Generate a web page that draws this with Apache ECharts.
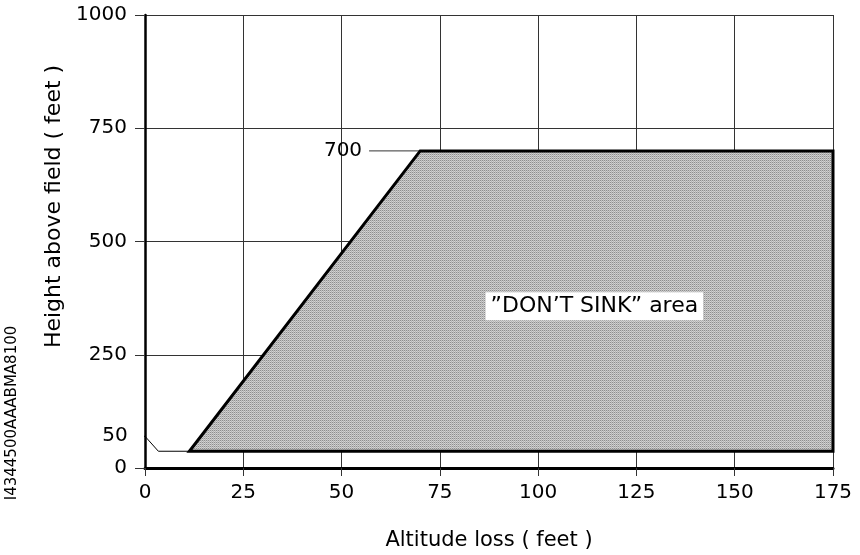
<!DOCTYPE html>
<html>
<head>
<meta charset="utf-8">
<script src="https://cdn.jsdelivr.net/npm/echarts@6/dist/echarts.min.js"></script>
<style>
  html, body { margin: 0; padding: 0; background: #fff; }
  #chart { width: 860px; height: 555px; }
</style>
</head>
<body>
<div id="chart"></div>
<script>
// ── Data ───────────────────────────────────────────────────────────────
const xTicks = [0, 25, 50, 75, 100, 125, 150, 175];
const yTicks = [0, 250, 500, 750, 1000];

// "DON'T SINK" zone outline (altitude loss, height above field)
const zoneX = [11.3, 70, 175, 175];
const zoneY = [37, 700, 700, 37];

// leader lines for the "50" and "700" call-outs
const lead50X = [-2.6, 0, 3.4, 11.3];
const lead50Y = [70, 70, 37, 37];
const lead700X = [57, 70];
const lead700Y = [700, 700];

// call-out texts
const calloutText = ['50', '700'];
const calloutX = [-2.6, 57];
const calloutY = [70, 700];

const areaText = '\u201DDON\u2019T SINK\u201D area';
const areaPos = [114.3, 357];

// ── Style ──────────────────────────────────────────────────────────────
const fontFamily = 'DejaVu Sans';
const ink = '#000';
const gridInk = '#333';

// fine grey wave hatch used for the zone fill
function makeHatch() {
  const c = document.createElement('canvas');
  c.width = 4; c.height = 2;
  const g = c.getContext('2d');
  const px = [['#8e8e8e', '#c4c4c4', '#8e8e8e', '#c4c4c4'],
              ['#d6d6d6', '#b4b4b4', '#d6d6d6', '#b4b4b4']];
  px.forEach((row, y) => row.forEach((col, x) => { g.fillStyle = col; g.fillRect(x, y, 1, 1); }));
  return c;
}
const hatch = { image: makeHatch(), repeat: 'repeat' };

const chart = echarts.init(document.getElementById('chart'));
chart.setOption({
  animation: false,
  grid: { left: 145, right: 27, top: 15, bottom: 87, containLabel: false, outerBoundsMode: 'none' },
  xAxis: {
    type: 'value', min: xTicks[0], max: xTicks[xTicks.length - 1], interval: 25,
    name: 'Altitude loss ( feet )', nameLocation: 'middle', nameGap: 62,
    nameTextStyle: { fontFamily, fontSize: 21, color: ink },
    axisLine: { show: true, onZero: false, lineStyle: { color: ink, width: 3 } },
    axisTick: { show: true, length: 8, lineStyle: { color: gridInk, width: 1 } },
    axisLabel: { fontFamily, fontSize: 20, color: ink, margin: 15, formatter: (v) => String(v) },
    splitLine: { show: true, lineStyle: { color: gridInk, width: 1 } }
  },
  yAxis: {
    type: 'value', min: yTicks[0], max: yTicks[yTicks.length - 1], interval: 250,
    name: 'Height above field ( feet )', nameLocation: 'middle', nameGap: 63, nameRotate: 90,
    nameTextStyle: { fontFamily, fontSize: 22, color: ink, padding: [0, 0, 0, 70] },
    axisLine: { show: true, onZero: false, lineStyle: { color: ink, width: 2.5 } },
    axisTick: { show: true, length: 10, lineStyle: { color: gridInk, width: 1 } },
    axisLabel: { fontFamily, fontSize: 20, color: ink, margin: 18, formatter: (v) => String(v) },
    splitLine: { show: true, lineStyle: { color: gridInk, width: 1 } }
  },
  graphic: [{
    type: 'text', x: 12, y: 413, rotation: Math.PI / 2,
    style: {
      text: 'I4344500AAABMA8100', font: '15px "DejaVu Sans"', fill: ink,
      textAlign: 'center', textVerticalAlign: 'middle'
    }
  }],
  series: [
    {
      type: 'custom',
      z: 3,
      data: zoneX.map((x, i) => [x, zoneY[i]]),
      renderItem(params, api) {
        if (params.dataIndex !== 0) return null;
        const pts = zoneX.map((x, i) => api.coord([x, zoneY[i]]));
        return {
          type: 'polygon',
          shape: { points: pts },
          style: { fill: hatch, stroke: ink, lineWidth: 3, lineJoin: 'miter' }
        };
      }
    },
    {
      type: 'line', z: 4, clip: false, symbol: 'none', silent: true,
      data: lead50X.map((x, i) => [x, lead50Y[i]]),
      lineStyle: { color: ink, width: 1 }
    },
    {
      type: 'line', z: 2, clip: false, symbol: 'none', silent: true,
      data: lead700X.map((x, i) => [x, lead700Y[i]]),
      lineStyle: { color: gridInk, width: 1 }
    },
    {
      type: 'scatter', z: 5, clip: false, symbolSize: 0, silent: true,
      itemStyle: { opacity: 1 },
      data: calloutX.map((x, i) => ({
        value: [x, calloutY[i]],
        label: { formatter: calloutText[i] }
      })),
      label: { show: true, position: 'left', distance: 7, fontFamily, fontSize: 20, color: ink }
    },
    {
      type: 'scatter', z: 6, symbolSize: 0, silent: true,
      itemStyle: { opacity: 1 },
      data: [areaPos],
      label: {
        show: true, position: 'inside', formatter: areaText,
        fontFamily, fontSize: 22, color: ink,
        backgroundColor: '#fff', padding: [3, 5, 3, 5]
      }
    }
  ]
});
</script>
</body>
</html>
